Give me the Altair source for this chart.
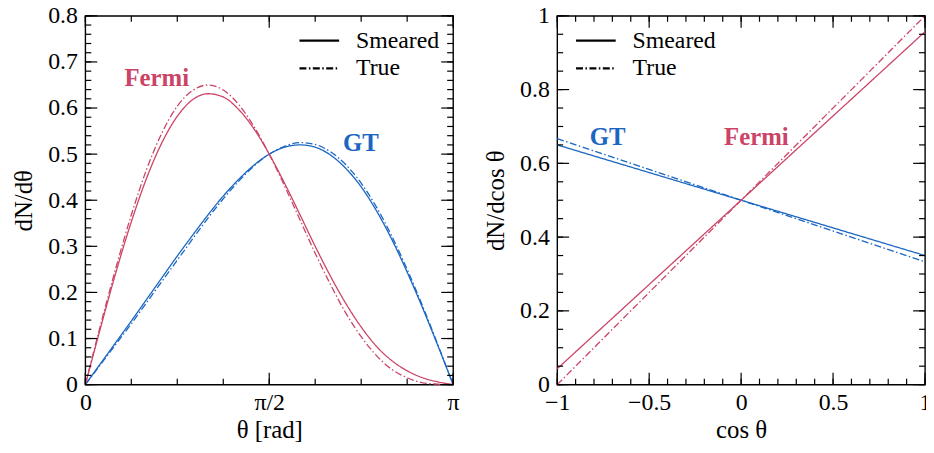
import math
import altair as alt
import pandas as pd

RED = "#cb4466"
BLUE = "#1a66c2"
FONT = "Liberation Serif, serif"
W, H = 371, 372

# ---------------- Left panel: dN/dtheta (theta sampled every 7.5 degrees) -------------
theta_deg = [0, 7.5, 15, 22.5, 30, 37.5, 45, 52.5, 60, 67.5, 75, 82.5, 90,
             97.5, 105, 112.5, 120, 127.5, 135, 142.5, 150, 157.5, 165, 172.5, 180]
fermi_true_theta = [0.0, 0.130, 0.254, 0.368, 0.467, 0.546, 0.604, 0.638, 0.650,
                    0.639, 0.608, 0.560, 0.500, 0.431, 0.358, 0.285, 0.217, 0.155,
                    0.104, 0.063, 0.033, 0.015, 0.004, 0.001, 0.0]
fermi_smeared_theta = [0.0, 0.124, 0.244, 0.353, 0.448, 0.525, 0.582, 0.618, 0.631,
                       0.624, 0.597, 0.555, 0.500, 0.437, 0.369, 0.300, 0.235, 0.176,
                       0.125, 0.083, 0.052, 0.030, 0.015, 0.006, 0.0]
gt_true_theta = [0.0, 0.044, 0.088, 0.132, 0.178, 0.224, 0.270, 0.316, 0.361,
                 0.403, 0.441, 0.474, 0.500, 0.517, 0.525, 0.521, 0.505, 0.477,
                 0.437, 0.385, 0.322, 0.250, 0.171, 0.087, 0.0]
gt_smeared_theta = [0.0, 0.046, 0.092, 0.138, 0.185, 0.232, 0.279, 0.324, 0.368,
                    0.409, 0.445, 0.476, 0.500, 0.515, 0.520, 0.515, 0.498, 0.469,
                    0.429, 0.377, 0.315, 0.244, 0.167, 0.085, 0.0]

# ---------------- Right panel: dN/dcos(theta) -------------
cos_pts = [-1.0, 1.0]
fermi_true_cos = [0.0, 1.0]
fermi_smeared_cos = [0.043, 0.957]
gt_true_cos = [0.667, 0.333]
gt_smeared_cos = [0.650, 0.350]

models = ["Fermi", "GT"]
kinds = ["Smeared", "True"]

# annotation labels (data coordinates)
left_labels = {"model": ["Fermi", "GT"], "x": [0.61, 2.354], "y": [0.665, 0.523]}
right_labels = {"model": ["GT", "Fermi"], "x": [-0.726, 0.083], "y": [0.672, 0.672]}

# ticks
left_x_major = [0, math.pi / 2, math.pi]
left_x_minor = [i * math.pi / 8 for i in range(9)]
left_y_major = [0, 0.1, 0.2, 0.3, 0.4, 0.5, 0.6, 0.7, 0.8]
left_y_minor = [round(i * 0.02, 2) for i in range(41)]
right_x_major = [-1, -0.5, 0, 0.5, 1]
right_x_minor = [round(-1 + i * 0.1, 1) for i in range(21)]
right_y_major = [0, 0.2, 0.4, 0.6, 0.8, 1]
right_y_minor = [round(i * 0.05, 2) for i in range(21)]

MAJOR_LEN, MINOR_LEN = 12, 6

AXIS_STYLE = dict(labelFont=FONT, labelFontSize=24, labelColor="black",
                  titleFont=FONT, titleFontSize=25, titleFontWeight="normal",
                  titleColor="black", grid=False, ticks=False, domain=False)


def long_df(xs, series):
    rows = []
    for (model, kind), ys in series.items():
        for x, y in zip(xs, ys):
            rows.append({"x": x, "y": y, "model": model, "kind": kind})
    return pd.DataFrame(rows)


left_df = long_df([d * math.pi / 180 for d in theta_deg], {
    ("GT", "Smeared"): gt_smeared_theta,
    ("GT", "True"): gt_true_theta,
    ("Fermi", "Smeared"): fermi_smeared_theta,
    ("Fermi", "True"): fermi_true_theta,
})
right_df = long_df(cos_pts, {
    ("GT", "Smeared"): gt_smeared_cos,
    ("GT", "True"): gt_true_cos,
    ("Fermi", "Smeared"): fermi_smeared_cos,
    ("Fermi", "True"): fermi_true_cos,
})

color_scale = alt.Scale(domain=models, range=[RED, BLUE])
dash_scale = alt.Scale(domain=kinds, range=[[1, 0], [7, 2.5, 1.5, 2.5]])


def tick_layers(xs, ys, xvals, yvals, length):
    out = []
    xdf = pd.DataFrame({"v": xvals})
    ydf = pd.DataFrame({"v": yvals})
    rule = dict(color="black", strokeWidth=1.2)
    out.append(alt.Chart(xdf).mark_rule(**rule).encode(
        x=alt.X("v:Q", scale=xs, axis=None),
        y=alt.value(H), y2=alt.value(H - length)))
    out.append(alt.Chart(xdf).mark_rule(**rule).encode(
        x=alt.X("v:Q", scale=xs, axis=None),
        y=alt.value(0), y2=alt.value(length)))
    out.append(alt.Chart(ydf).mark_rule(**rule).encode(
        y=alt.Y("v:Q", scale=ys, axis=None),
        x=alt.value(0), x2=alt.value(length)))
    out.append(alt.Chart(ydf).mark_rule(**rule).encode(
        y=alt.Y("v:Q", scale=ys, axis=None),
        x=alt.value(W), x2=alt.value(W - length)))
    return out


def panel(df, labels_df, xdom, ydom, xmaj, xmin, ymaj, ymin, xtitle, ytitle,
          legend_x, xlabel_expr=None):
    xs = alt.Scale(domain=xdom, nice=False, zero=False)
    ys = alt.Scale(domain=ydom, nice=False, zero=False)
    xaxis_kw = dict(orient="bottom", values=xmaj, title=xtitle, labelPadding=6,
                    titlePadding=3, format="~g", labelFlush=False, **AXIS_STYLE)
    if xlabel_expr:
        xaxis_kw["labelExpr"] = xlabel_expr
    lines = alt.Chart(df).mark_line(strokeWidth=1.3, interpolate="monotone").encode(
        x=alt.X("x:Q", scale=xs, axis=alt.Axis(**xaxis_kw)),
        y=alt.Y("y:Q", scale=ys, axis=alt.Axis(orient="left", values=ymaj, title=ytitle,
                                               format="~g", labelPadding=8,
                                               titlePadding=11, **AXIS_STYLE)),
        color=alt.Color("model:N", scale=color_scale, legend=None),
        strokeDash=alt.StrokeDash(
            "kind:N", scale=dash_scale,
            legend=alt.Legend(orient="none", legendX=legend_x, legendY=11, title=None,
                              symbolType="M-1.6,0H1.6", symbolStrokeColor="black",
                              symbolStrokeWidth=2.5, symbolSize=625,
                              labelFont=FONT, labelFontSize=24, labelColor="black",
                              labelOffset=23, rowPadding=2)),
    )
    text = alt.Chart(labels_df).mark_text(font=FONT, fontSize=25, fontWeight="bold").encode(
        x=alt.X("x:Q", scale=xs, axis=None),
        y=alt.Y("y:Q", scale=ys, axis=None),
        text="model:N",
        color=alt.Color("model:N", scale=color_scale, legend=None),
    )
    layers = [lines, text]
    layers += tick_layers(xs, ys, xmaj, ymaj, MAJOR_LEN)
    layers += tick_layers(xs, ys, xmin, ymin, MINOR_LEN)
    return alt.layer(*layers).resolve_scale(x="shared", y="shared").resolve_axis(
        x="independent", y="independent").properties(width=W, height=H)


left = panel(left_df, pd.DataFrame(left_labels), [0, math.pi], [0, 0.8],
             left_x_major, left_x_minor, left_y_major, left_y_minor,
             "θ [rad]", "dN/dθ", 222,
             xlabel_expr="datum.value < 0.1 ? '0' : (datum.value < 2 ? 'π/2' : 'π')")
right = panel(right_df, pd.DataFrame(right_labels), [-1, 1], [0, 1],
              right_x_major, right_x_minor, right_y_major, right_y_minor,
              "cos θ", "dN/dcos θ", 25)

chart = alt.hconcat(left, right, spacing=23).resolve_scale(
    x="independent", y="independent", color="shared", strokeDash="shared"
).resolve_legend(strokeDash="independent").properties(
    padding={"left": 3, "top": -7, "right": -6, "bottom": 0}
).configure_view(stroke="black", strokeWidth=1.4)

chart.save("out.html", embed_options={"renderer": "svg", "actions": False})
